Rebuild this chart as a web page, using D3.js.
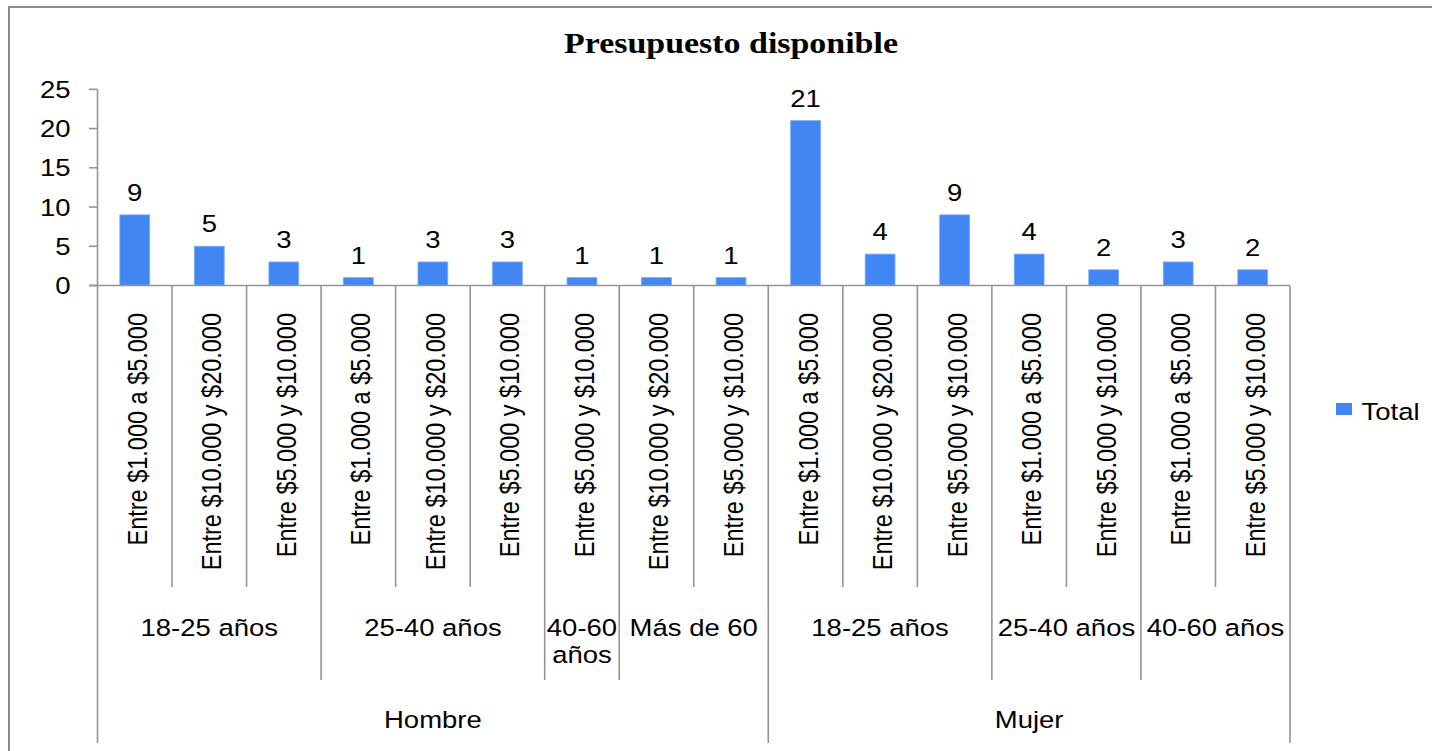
<!DOCTYPE html>
<html>
<head>
<meta charset="utf-8">
<script src="https://cdn.jsdelivr.net/npm/d3@7"></script>
<style>
  html, body { margin: 0; padding: 0; background: #fff; }
  svg { display: block; }
  text { font-family: "Liberation Sans", Arial, sans-serif; fill: #000; }
</style>
</head>
<body>
<svg id="chart" width="1432" height="751"></svg>
<script>
// Presupuesto disponible por género, edad y rango
const generos = ["Hombre","Hombre","Hombre","Hombre","Hombre","Hombre","Hombre","Hombre","Hombre",
                 "Mujer","Mujer","Mujer","Mujer","Mujer","Mujer","Mujer"];
const edades = ["18-25 años","18-25 años","18-25 años",
                "25-40 años","25-40 años","25-40 años",
                "40-60 años",
                "Más de 60","Más de 60",
                "18-25 años","18-25 años","18-25 años",
                "25-40 años","25-40 años",
                "40-60 años","40-60 años"];
const rangos = ["Entre $1.000 a $5.000","Entre $10.000 y $20.000","Entre $5.000 y $10.000",
                "Entre $1.000 a $5.000","Entre $10.000 y $20.000","Entre $5.000 y $10.000",
                "Entre $5.000 y $10.000",
                "Entre $10.000 y $20.000","Entre $5.000 y $10.000",
                "Entre $1.000 a $5.000","Entre $10.000 y $20.000","Entre $5.000 y $10.000",
                "Entre $1.000 a $5.000","Entre $5.000 y $10.000",
                "Entre $1.000 a $5.000","Entre $5.000 y $10.000"];
const totales = [9,5,3, 1,3,3, 1, 1,1, 21,4,9, 4,2, 3,2];
const yTicks = [0,5,10,15,20,25];
const titulo = "Presupuesto disponible";
const serie = "Total";

const W = 1432, H = 751;
const SX = 1.17;             // horizontal text stretch
const FS = 23.5;             // body font size
const AXIS = "#959595";
const BLUE = "#4286F4";

const svg = d3.select("#chart");
svg.append("rect").attr("width", W).attr("height", H).attr("fill", "#fff");

// outer frame (top and left edges)
svg.append("path")
  .attr("d", `M9,${H} L9,7 L${W},7`)
  .attr("fill", "none").attr("stroke", "#8a8a8a").attr("stroke-width", 2);

const plot = { left: 97.5, right: 1290, top: 89.3, bottom: 285.5 };
const idx = d3.range(totales.length);

const x = d3.scaleBand().domain(idx).range([plot.left, plot.right]).padding(0);
const y = d3.scaleLinear().domain([0, 25]).range([plot.bottom, plot.top]);
const barW = x.bandwidth() * 0.4;

// title
svg.append("text")
  .attr("transform", `translate(731,52.5) scale(${SX},1)`)
  .attr("text-anchor", "middle")
  .style("font-family", "'Liberation Serif', 'Times New Roman', serif")
  .style("font-weight", "bold")
  .style("font-size", "29px")
  .text(titulo);

// y axis
const yAxis = svg.append("g");
yAxis.append("line")
  .attr("x1", plot.left).attr("x2", plot.left)
  .attr("y1", y(25)).attr("y2", plot.bottom)
  .attr("stroke", AXIS).attr("stroke-width", 1.6);
yAxis.selectAll("line.tick").data(yTicks).join("line")
  .attr("class", "tick")
  .attr("x1", plot.left - 8.5).attr("x2", plot.left)
  .attr("y1", d => y(d)).attr("y2", d => y(d))
  .attr("stroke", AXIS).attr("stroke-width", 1.6);
yAxis.selectAll("text").data(yTicks).join("text")
  .attr("transform", d => `translate(70.5,${y(d) + 8.5}) scale(${SX},1)`)
  .attr("text-anchor", "end")
  .style("font-size", FS + "px")
  .text(d => d);

// bars
svg.selectAll("rect.bar").data(idx).join("rect")
  .attr("class", "bar")
  .attr("x", i => x(i) + (x.bandwidth() - barW) / 2)
  .attr("width", barW)
  .attr("y", i => y(totales[i]))
  .attr("height", i => y(0) - y(totales[i]))
  .attr("fill", BLUE)
  .attr("stroke", "#7aa9f7").attr("stroke-width", 0.8);

// value labels
svg.selectAll("text.val").data(idx).join("text")
  .attr("class", "val")
  .attr("transform", i => `translate(${x(i) + x.bandwidth() / 2},${y(totales[i]) - 14}) scale(${SX},1)`)
  .attr("text-anchor", "middle")
  .style("font-size", FS + "px")
  .text(i => totales[i]);

// x axis line
svg.append("line")
  .attr("x1", plot.left - 8.5).attr("x2", plot.right)
  .attr("y1", plot.bottom).attr("y2", plot.bottom)
  .attr("stroke", AXIS).attr("stroke-width", 1.6);

// multi-level category boundaries
const lvl1 = 587, lvl2 = 680, lvl3 = 743;
const bounds = d3.range(totales.length + 1).map(k => {
  const xb = k < totales.length ? x(k) : plot.right;
  let bottom = lvl1;
  if (k === 0 || k === totales.length || generos[k] !== generos[k - 1]) bottom = lvl3;
  else if (edades[k] !== edades[k - 1]) bottom = lvl2;
  return { xb, bottom };
});
svg.selectAll("line.sep").data(bounds).join("line")
  .attr("class", "sep")
  .attr("x1", d => d.xb).attr("x2", d => d.xb)
  .attr("y1", plot.bottom).attr("y2", d => d.bottom)
  .attr("stroke", AXIS).attr("stroke-width", 1.6);

// innermost category labels (rotated)
svg.selectAll("text.cat").data(idx).join("text")
  .attr("class", "cat")
  .attr("transform", i => `translate(${x(i) + x.bandwidth() / 2 + 12},313) scale(${SX},1) rotate(-90)`)
  .attr("text-anchor", "end")
  .style("font-size", FS + "px")
  .text(i => rangos[i]);

// group spans
function spans(keyFn) {
  const out = [];
  idx.forEach(i => {
    const k = keyFn(i);
    const last = out[out.length - 1];
    if (last && last.key === k) last.end = i;
    else out.push({ key: k, start: i, end: i, label: null });
  });
  return out;
}
const ageGroups = spans(i => generos[i] + "|" + edades[i]).map(g => ({ ...g, label: edades[g.start] }));
const genderGroups = spans(i => generos[i]).map(g => ({ ...g, label: generos[g.start] }));

function spanX(g) {
  const x0 = x(g.start), x1 = x(g.end) + x.bandwidth();
  return { cx: (x0 + x1) / 2, w: x1 - x0 };
}

// age labels, wrapping when narrower than the text
ageGroups.forEach(g => {
  const { cx, w } = spanX(g);
  const t = svg.append("text")
    .attr("transform", `translate(${cx},636) scale(${SX},1)`)
    .attr("text-anchor", "middle")
    .style("font-size", FS + "px")
    .text(g.label);
  const len = t.node().getComputedTextLength() * SX;
  if (len > w - 2) {
    t.text(null);
    g.label.split(" ").forEach((word, j) => {
      t.append("tspan").attr("x", 0).attr("dy", j === 0 ? 0 : 27).text(word);
    });
  }
});

// gender labels
svg.selectAll("text.gen").data(genderGroups).join("text")
  .attr("class", "gen")
  .attr("transform", g => `translate(${spanX(g).cx},728) scale(${SX},1)`)
  .attr("text-anchor", "middle")
  .style("font-size", FS + "px")
  .text(g => g.label);

// legend
const lg = svg.append("g").attr("transform", "translate(1336,403)");
lg.append("rect").attr("width", 16).attr("height", 12).attr("fill", BLUE);
lg.append("text")
  .attr("transform", `translate(25.5,16.5) scale(${SX},1)`)
  .style("font-size", FS + "px")
  .text(serie);
</script>
</body>
</html>
